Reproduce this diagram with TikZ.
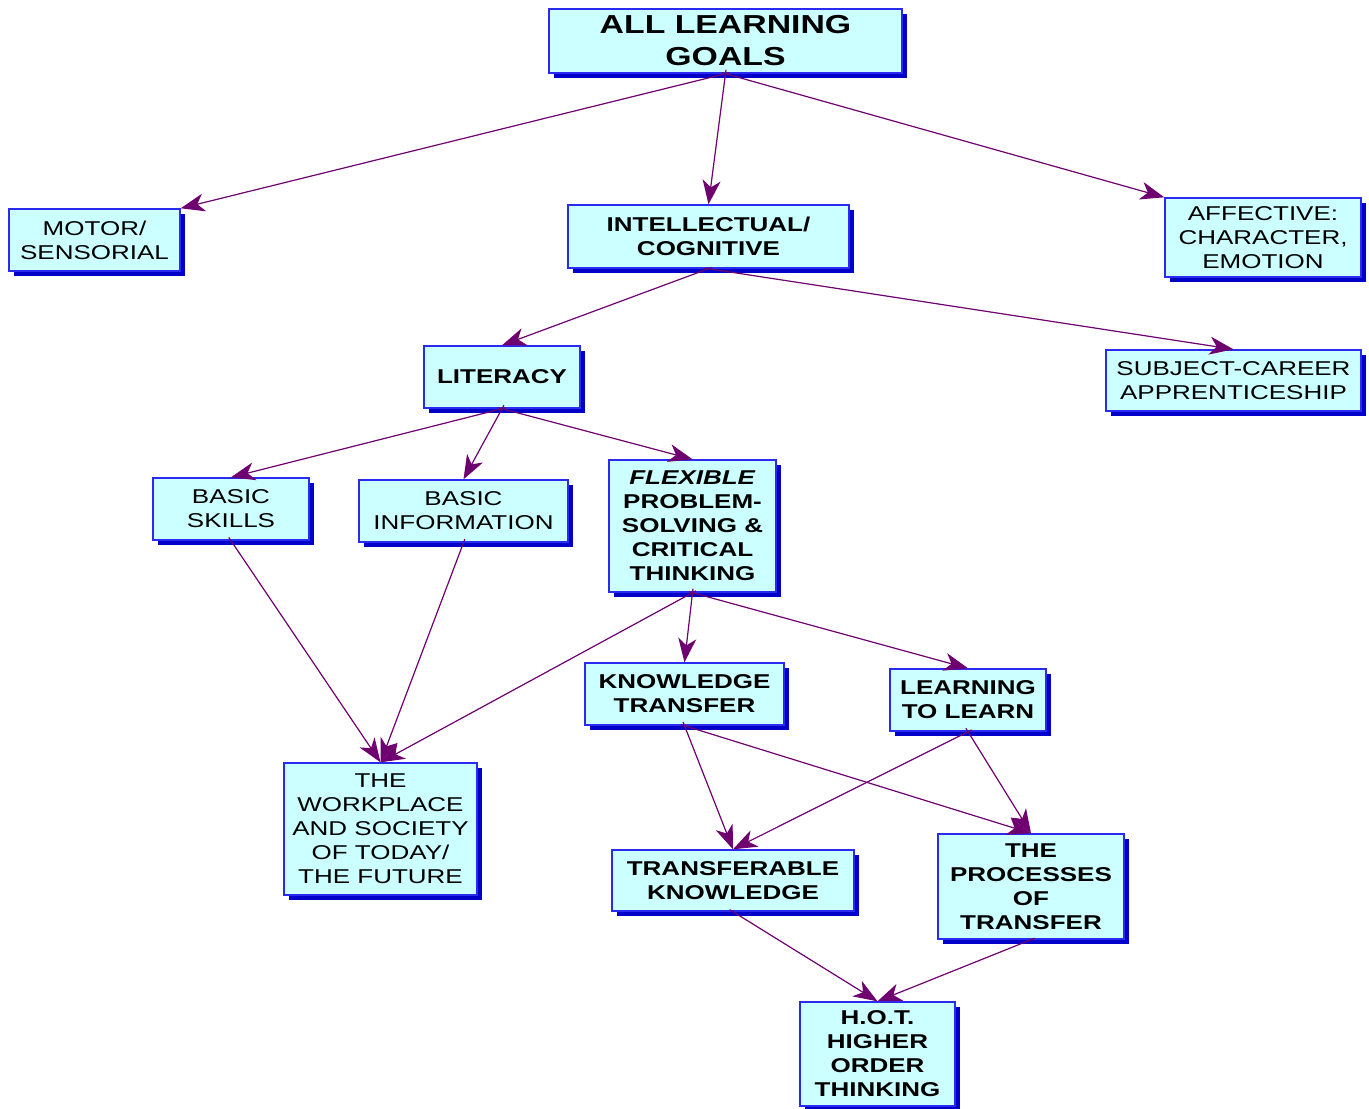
\documentclass[tikz,border=0pt]{standalone}
\usepackage{fontspec}
\setmainfont{Liberation Sans}[FakeStretch=1.3]
\usetikzlibrary{shadows,arrows.meta,calc}
\definecolor{boxfill}{HTML}{CCFFFF}
\definecolor{boxline}{HTML}{2A2AF0}
\definecolor{boxshade}{HTML}{0000C8}
\definecolor{linkcol}{HTML}{6E0070}
\begin{document}
\begin{tikzpicture}[x=1pt,y=-1pt,
  box/.style={draw=boxline, line width=1.4pt, fill=boxfill, inner sep=0pt,
    align=center, font=\fontsize{20}{24}\selectfont,
    drop shadow={shadow xshift=5pt, shadow yshift=-5pt, fill=boxshade, opacity=1}},
  boldbox/.style={box, font=\fontsize{20}{24}\selectfont\bfseries},
  link/.style={draw=linkcol, line width=1.2pt,
    -{Stealth[length=24pt,width=18pt,inset=7pt]}},
  src/.style={shorten <=-4pt}]
\useasboundingbox (0,0) rectangle (1369,1109);

\node[boldbox, minimum width=353pt, minimum height=64pt,
      font=\fontsize{26}{32}\selectfont\bfseries] (all) at (725.5,41) {\raisebox{-2pt}{ALL LEARNING}\\\raisebox{-2pt}{GOALS}};
\node[box, minimum width=171pt, minimum height=62pt] (motor) at (94.5,240) {MOTOR/\\SENSORIAL};
\node[boldbox, minimum width=281pt, minimum height=63pt] (intel) at (708.5,236.5) {INTELLECTUAL/\\COGNITIVE};
\node[box, minimum width=196pt, minimum height=79pt] (affect) at (1263,237.5) {AFFECTIVE:\\CHARACTER,\\EMOTION};
\node[boldbox, minimum width=156pt, minimum height=62pt] (lit) at (502,377) {LITERACY};
\node[box, minimum width=255pt, minimum height=61pt] (subj) at (1233.5,380.5) {SUBJECT-CAREER\\APPRENTICESHIP};
\node[box, minimum width=156pt, minimum height=62pt] (bskills) at (231,509) {BASIC\\SKILLS};
\node[box, minimum width=209pt, minimum height=62pt] (binfo) at (463.5,511) {BASIC\\INFORMATION};
\node[boldbox, minimum width=167pt, minimum height=132pt] (flex) at (692.5,526)
  {\textit{FLEXIBLE}\\PROBLEM-\\SOLVING \&\\CRITICAL\\THINKING};
\node[boldbox, minimum width=199pt, minimum height=62pt] (kt) at (684.5,694) {KNOWLEDGE\\TRANSFER};
\node[boldbox, minimum width=156pt, minimum height=62pt] (ltl) at (968,700) {LEARNING\\TO LEARN};
\node[box, minimum width=193pt, minimum height=132pt] (work) at (380.5,829)
  {THE\\WORKPLACE\\AND SOCIETY\\OF TODAY/\\THE FUTURE};
\node[boldbox, minimum width=242pt, minimum height=61pt] (tk) at (733,880.5) {TRANSFERABLE\\KNOWLEDGE};
\node[boldbox, minimum width=186pt, minimum height=105pt] (proc) at (1031,886.5) {THE\\PROCESSES\\OF\\TRANSFER};
\node[boldbox, minimum width=155pt, minimum height=104pt] (hot) at (877.5,1054) {H.O.T.\\HIGHER\\ORDER\\THINKING};

\draw[link, src] (all.south) -- (motor.north east);
\draw[link, src] (all.south) -- (intel.north);
\draw[link, src] (all.south) -- (affect.north west);
\draw[link, src] (intel.south) -- (lit.north);
\draw[link, src] (intel.south) -- (subj.north);
\draw[link, src] (lit.south) -- (bskills.north);
\draw[link, src] (lit.south) -- (binfo.north);
\draw[link, src] (lit.south) -- (flex.north);
\draw[link, src] (bskills.south) -- (work.north);
\draw[link, src] (binfo.south) -- (work.north);
\draw[link, src] (flex.south) -- (work.north);
\draw[link, src] (flex.south) -- (kt.north);
\draw[link, src] (flex.south) -- (ltl.north);
\draw[link, src] (kt.south) -- (tk.north);
\draw[link, src] (kt.south) -- (proc.north);
\draw[link, src] (ltl.south) -- (tk.north);
\draw[link, src] (ltl.south) -- (proc.north);
\draw[link, src] (tk.south) -- (hot.north);
\draw[link, src] (proc.south) -- (hot.north);
\end{tikzpicture}
\end{document}
